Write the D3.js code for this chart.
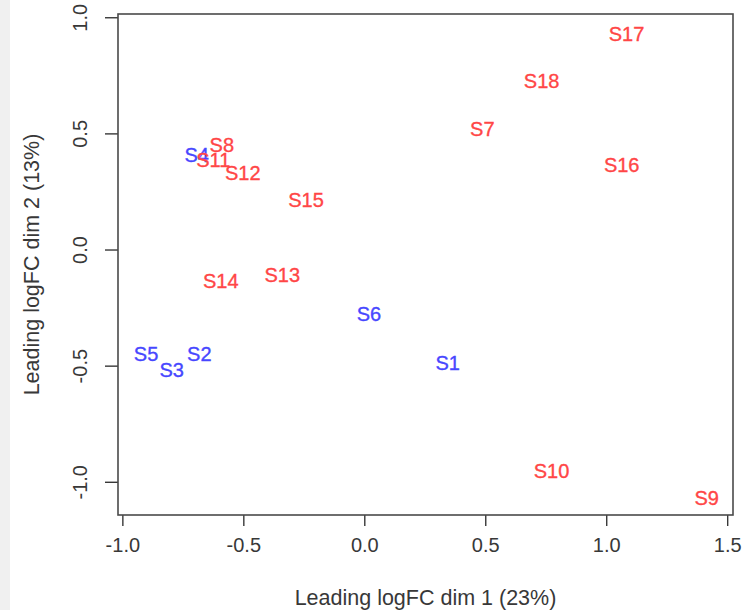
<!DOCTYPE html>
<html>
<head>
<meta charset="utf-8">
<script src="https://cdn.jsdelivr.net/npm/d3@7"></script>
<style>
  html, body { margin: 0; padding: 0; background: #ffffff; }
  svg { display: block; }
  text { font-family: "Liberation Sans", Arial, sans-serif; }
</style>
</head>
<body>
<svg id="chart" width="745" height="610"></svg>
<script>
// MDS sample coordinates (leading logFC dimensions)
const samples = ["S1","S2","S3","S4","S5","S6","S7","S8","S9","S10","S11","S12","S13","S14","S15","S16","S17","S18"];
const dim1 = [0.345,-0.682,-0.796,-0.693,-0.902,0.019,0.488,-0.589,1.415,0.774,-0.624,-0.502,-0.339,-0.593,-0.241,1.064,1.084,0.733];
const dim2 = [-0.488,-0.450,-0.519,0.407,-0.447,-0.278,0.518,0.450,-1.067,-0.954,0.385,0.332,-0.109,-0.134,0.216,0.364,0.927,0.727];
const groups = ["A","A","A","A","A","A","B","B","B","B","B","B","B","B","B","B","B","B"];
const groupColors = { A: "#4747ff", B: "#ff4646" };

const xTicks = [-1.0, -0.5, 0.0, 0.5, 1.0, 1.5];
const yTicks = [-1.0, -0.5, 0.0, 0.5, 1.0];
const xLabel = "Leading logFC dim 1 (23%)";
const yLabel = "Leading logFC dim 2 (13%)";

const svg = d3.select("#chart");
const W = 745, H = 610;
const plot = { left: 118, right: 733, top: 14, bottom: 515 };

// light side strip on the left edge of the page
svg.append("rect").attr("x", 0).attr("y", 0).attr("width", 10).attr("height", H).attr("fill", "#f0f0f0");

const x = d3.scaleLinear().domain([-1.018, 1.524]).range([plot.left, plot.right]);
const y = d3.scaleLinear().domain([-1.143, 1.014]).range([plot.bottom, plot.top]);

const fs = 20;
const titleFs = 21.5;
const axisColor = "#383838";
const fmt = d => d3.format(".1f")(d).replace("−", "-");

// bottom axis
const xAxis = d3.axisBottom(x).tickValues(xTicks).tickSize(11).tickPadding(12).tickFormat(fmt);
const gx = svg.append("g").attr("transform", `translate(0,${plot.bottom})`).call(xAxis);
gx.select(".domain").remove();
gx.selectAll(".tick line").attr("stroke", axisColor).attr("stroke-width", 1.4);
gx.selectAll(".tick text").attr("fill", axisColor).attr("font-size", fs)
  .attr("font-family", "Liberation Sans, Arial, sans-serif");

// left axis with rotated labels
const yAxis = d3.axisLeft(y).tickValues(yTicks).tickSize(13).tickFormat(fmt);
const gy = svg.append("g").attr("transform", `translate(${plot.left},0)`).call(yAxis);
gy.select(".domain").remove();
gy.selectAll(".tick line").attr("stroke", axisColor).attr("stroke-width", 1.4);
gy.selectAll(".tick text")
  .attr("fill", axisColor).attr("font-size", fs)
  .attr("font-family", "Liberation Sans, Arial, sans-serif")
  .attr("x", 0)
  .attr("text-anchor", "middle")
  .attr("transform", "translate(-38,0) rotate(-90)")
  .attr("dy", "0.35em");

// plot frame
svg.append("rect")
  .attr("x", plot.left).attr("y", plot.top)
  .attr("width", plot.right - plot.left).attr("height", plot.bottom - plot.top)
  .attr("fill", "none").attr("stroke", "#4a4a4a").attr("stroke-width", 1.6);

// axis titles
svg.append("text")
  .attr("x", (plot.left + plot.right) / 2).attr("y", 597)
  .attr("dy", "0.35em").attr("text-anchor", "middle")
  .attr("font-size", titleFs).attr("fill", axisColor).text(xLabel);
svg.append("text")
  .attr("transform", `translate(31,${(plot.top + plot.bottom) / 2}) rotate(-90)`)
  .attr("dy", "0.35em").attr("text-anchor", "middle")
  .attr("font-size", titleFs).attr("fill", axisColor).text(yLabel);

// sample labels
const data = samples.map((s, i) => ({ name: s, d1: dim1[i], d2: dim2[i], g: groups[i] }));
svg.append("g").selectAll("text").data(data).join("text")
  .attr("x", d => x(d.d1)).attr("y", d => y(d.d2))
  .attr("dy", "0.36em").attr("text-anchor", "middle")
  .attr("font-size", fs).attr("fill", d => groupColors[d.g])
  .attr("stroke", d => groupColors[d.g]).attr("stroke-width", 0.35)
  .text(d => d.name);
</script>
</body>
</html>
